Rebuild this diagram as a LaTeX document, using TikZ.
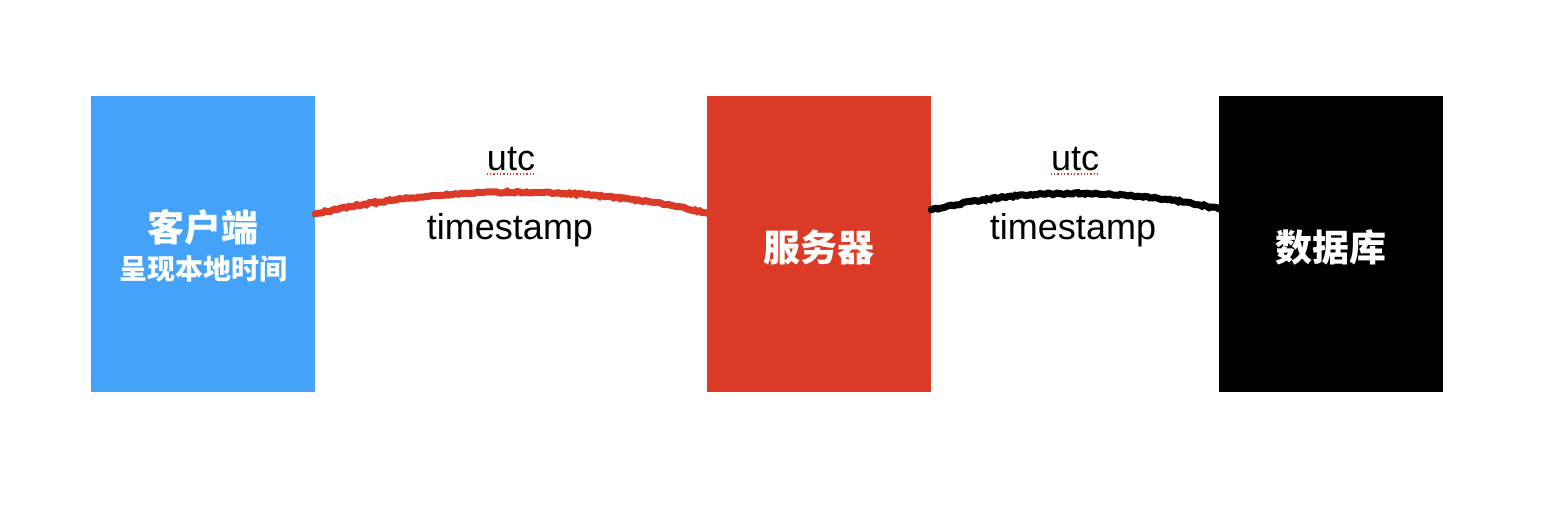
\documentclass[tikz,border=0pt]{standalone}
\usepackage{fontspec}
\setmainfont{Liberation Sans}
\newfontfamily\cjk{Noto Sans CJK SC}
\usetikzlibrary{decorations.pathmorphing}
\definecolor{cblue}{HTML}{45A2F9}
\definecolor{cred}{HTML}{DA3A26}
\tikzset{
  box/.style={minimum width=224pt,minimum height=296pt,inner sep=0pt,draw=none},
  cntext/.style={text=white,font=\cjk\bfseries\fontsize{37}{42}\selectfont,inner sep=0pt},
  cnsmall/.style={text=white,font=\cjk\bfseries\fontsize{28}{32}\selectfont,inner sep=0pt},
  lbl/.style={font=\fontsize{36}{40}\selectfont,inner sep=0pt,text=black},
  crayon/.style={line width=7pt,line cap=round,decorate,decoration={random steps,segment length=2.5pt,amplitude=0.9pt}},
  spell/.style={cred,line width=1.3pt,dotted}
}
\begin{document}
\begin{tikzpicture}[x=1pt,y=-1pt]
\useasboundingbox[fill=white] (0,0) rectangle (1542,512);
\node[box,fill=cblue] (client) at (203,244) {};
\node[box,fill=cred] (server) at (819,244) {};
\node[box,fill=black] (db) at (1331,244) {};
\node[cntext] (clientname) at (203,227) {客户端};
\node[cnsmall] (clientsub) at (203,269) {呈现本地时间};
\node[cntext] (servername) at (819,247) {服务器};
\node[cntext] (dbname) at (1331,247) {数据库};
\draw[crayon,cred] ([yshift=30pt]client.east) .. controls (440,185) and (590,185) .. ([yshift=31pt]server.west);
\draw[crayon,black] ([yshift=34pt]server.east) .. controls (1020,188) and (1130,188) .. ([yshift=35pt]db.west);
\node[lbl] (utc1) at (511,159) {utc};
\node[lbl] (ts1) at (510,230) {timestamp};
\node[lbl] (utc2) at (1075,159) {utc};
\node[lbl] (ts2) at (1073,230) {timestamp};
\draw[spell] ([yshift=-3pt]utc1.south west) -- ([yshift=-3pt]utc1.south east);
\draw[spell] ([yshift=-3pt]utc2.south west) -- ([yshift=-3pt]utc2.south east);
\end{tikzpicture}
\end{document}
